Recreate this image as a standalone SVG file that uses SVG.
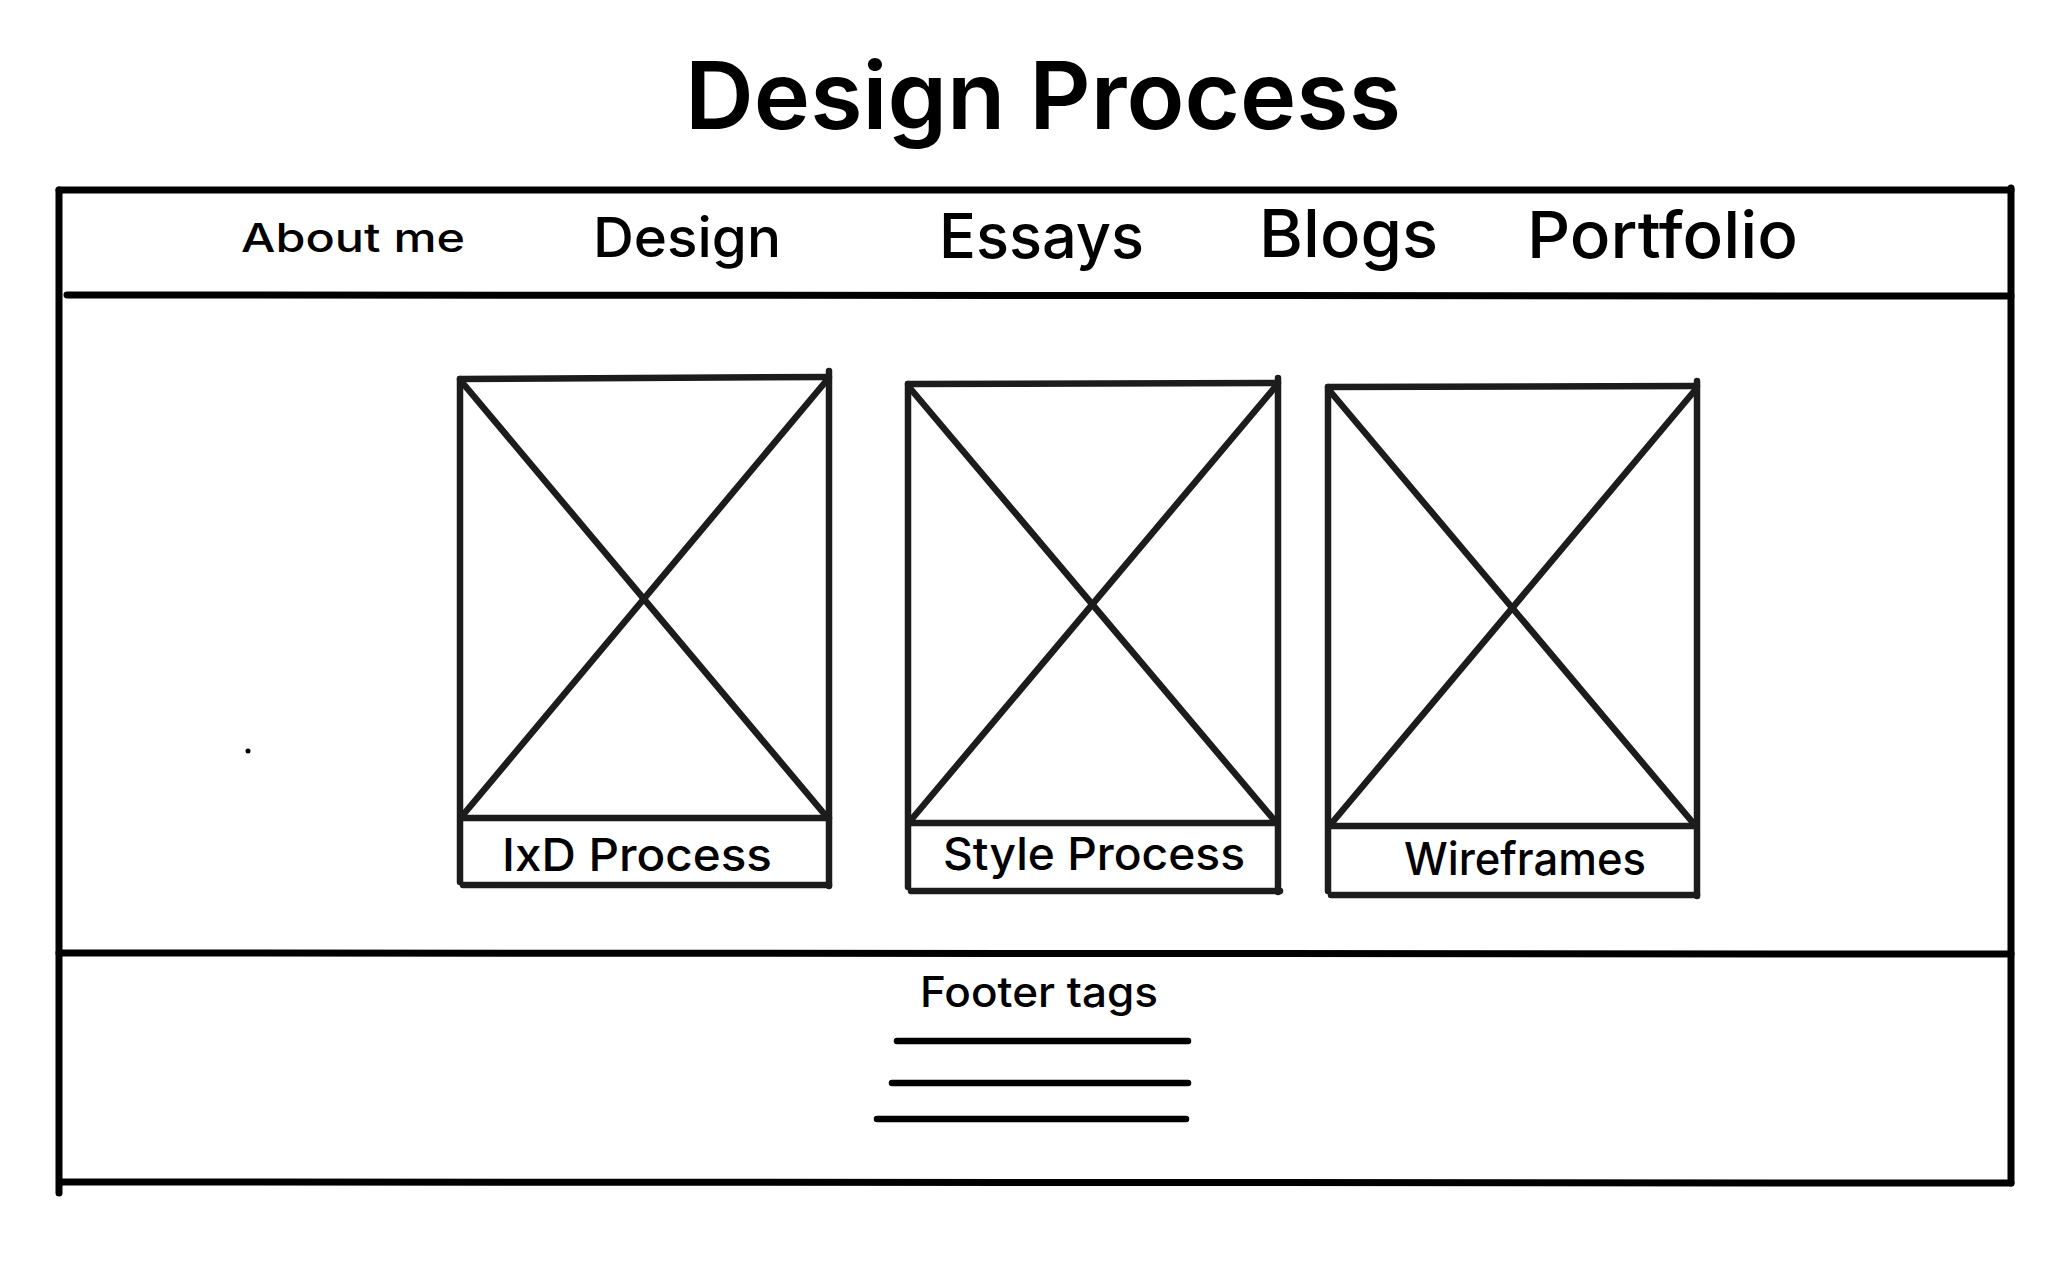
<svg xmlns="http://www.w3.org/2000/svg" width="2048" height="1274" viewBox="0 0 2048 1274">
  <style>
    .frame { stroke: #000; stroke-width: 7; stroke-linecap: round; fill: none; }
    .box { stroke: #1c1c1c; stroke-width: 6.5; stroke-linecap: round; fill: none; }
    .rule { stroke: #000; stroke-width: 6.5; stroke-linecap: round; }
    .t { font-family: Inter, "Liberation Sans", sans-serif; fill: #000; }
    .title { font-size: 94px; font-weight: 600; }
    .nav { font-weight: 500; }
    .lbl { font-size: 45px; font-weight: 500; }
  </style>
  <rect width="2048" height="1274" fill="#fff"/>

  <text class="t title" x="685" y="129" textLength="716" lengthAdjust="spacingAndGlyphs">Design Process</text>

  <!-- page frame -->
  <g id="page-frame">
    <line class="frame" x1="59" y1="190" x2="59" y2="1193"/>
    <line class="frame" x1="59" y1="190" x2="2011" y2="190"/>
    <line class="frame" x1="2011" y1="188" x2="2011" y2="1183"/>
    <line class="frame" x1="67" y1="295" x2="2011" y2="296"/>
    <line class="frame" x1="59" y1="953" x2="2011" y2="954"/>
    <line class="frame" x1="60" y1="1182" x2="2011" y2="1183"/>
  </g>

  <!-- navigation -->
  <g id="nav">
    <text class="t nav" x="241" y="252" font-size="40" textLength="224" lengthAdjust="spacingAndGlyphs">About me</text>
    <text class="t nav" x="593" y="257" font-size="55" textLength="188" lengthAdjust="spacingAndGlyphs">Design</text>
    <text class="t nav" x="939" y="258" font-size="62" textLength="205" lengthAdjust="spacingAndGlyphs">Essays</text>
    <text class="t nav" x="1259" y="257" font-size="66" textLength="179" lengthAdjust="spacingAndGlyphs">Blogs</text>
    <text class="t nav" x="1527" y="258" font-size="65" textLength="271" lengthAdjust="spacingAndGlyphs">Portfolio</text>
  </g>

  <!-- card: IxD Process -->
  <g id="card-ixd">
    <line class="box" x1="460" y1="379" x2="829" y2="377"/>
    <line class="box" x1="460" y1="379" x2="460" y2="882"/>
    <line class="box" x1="829" y1="371" x2="829" y2="886"/>
    <line class="box" x1="462" y1="818" x2="829" y2="818"/>
    <line class="box" x1="463" y1="885" x2="829" y2="885"/>
    <line class="box" x1="461" y1="381" x2="826" y2="816"/>
    <line class="box" x1="827" y1="380" x2="463" y2="815"/>
    <text class="t lbl" x="502" y="871" textLength="270" lengthAdjust="spacingAndGlyphs">IxD Process</text>
  </g>

  <!-- card: Style Process -->
  <g id="card-style">
    <line class="box" x1="908" y1="384" x2="1278" y2="383"/>
    <line class="box" x1="908" y1="384" x2="908" y2="887"/>
    <line class="box" x1="1278" y1="378" x2="1278" y2="892"/>
    <line class="box" x1="910" y1="823" x2="1276" y2="823"/>
    <line class="box" x1="911" y1="891" x2="1280" y2="891"/>
    <line class="box" x1="909" y1="387" x2="1275" y2="821"/>
    <line class="box" x1="1276" y1="386" x2="911" y2="820"/>
    <text class="t lbl" x="943" y="870" textLength="302" lengthAdjust="spacingAndGlyphs">Style Process</text>
  </g>

  <!-- card: Wireframes -->
  <g id="card-wireframes">
    <line class="box" x1="1328" y1="387" x2="1697" y2="386"/>
    <line class="box" x1="1328" y1="387" x2="1328" y2="891"/>
    <line class="box" x1="1697" y1="381" x2="1697" y2="896"/>
    <line class="box" x1="1330" y1="826" x2="1695" y2="826"/>
    <line class="box" x1="1331" y1="895" x2="1697" y2="895"/>
    <line class="box" x1="1329" y1="390" x2="1694" y2="824"/>
    <line class="box" x1="1696" y1="389" x2="1331" y2="824"/>
    <text class="t lbl" x="1404" y="875" textLength="242" lengthAdjust="spacingAndGlyphs">Wireframes</text>
  </g>

  <!-- footer -->
  <g id="footer">
    <text class="t" x="920" y="1007" font-size="42" font-weight="500" textLength="238" lengthAdjust="spacingAndGlyphs">Footer tags</text>
    <line class="rule" x1="897" y1="1041" x2="1188" y2="1041"/>
    <line class="rule" x1="892" y1="1083" x2="1188" y2="1083"/>
    <line class="rule" x1="877" y1="1119" x2="1186" y2="1119"/>
  </g>

  <circle cx="248" cy="751" r="2.5" fill="#000"/>

  <!-- no connectors in this layout -->
  <g id="connectors"/>
</svg>
